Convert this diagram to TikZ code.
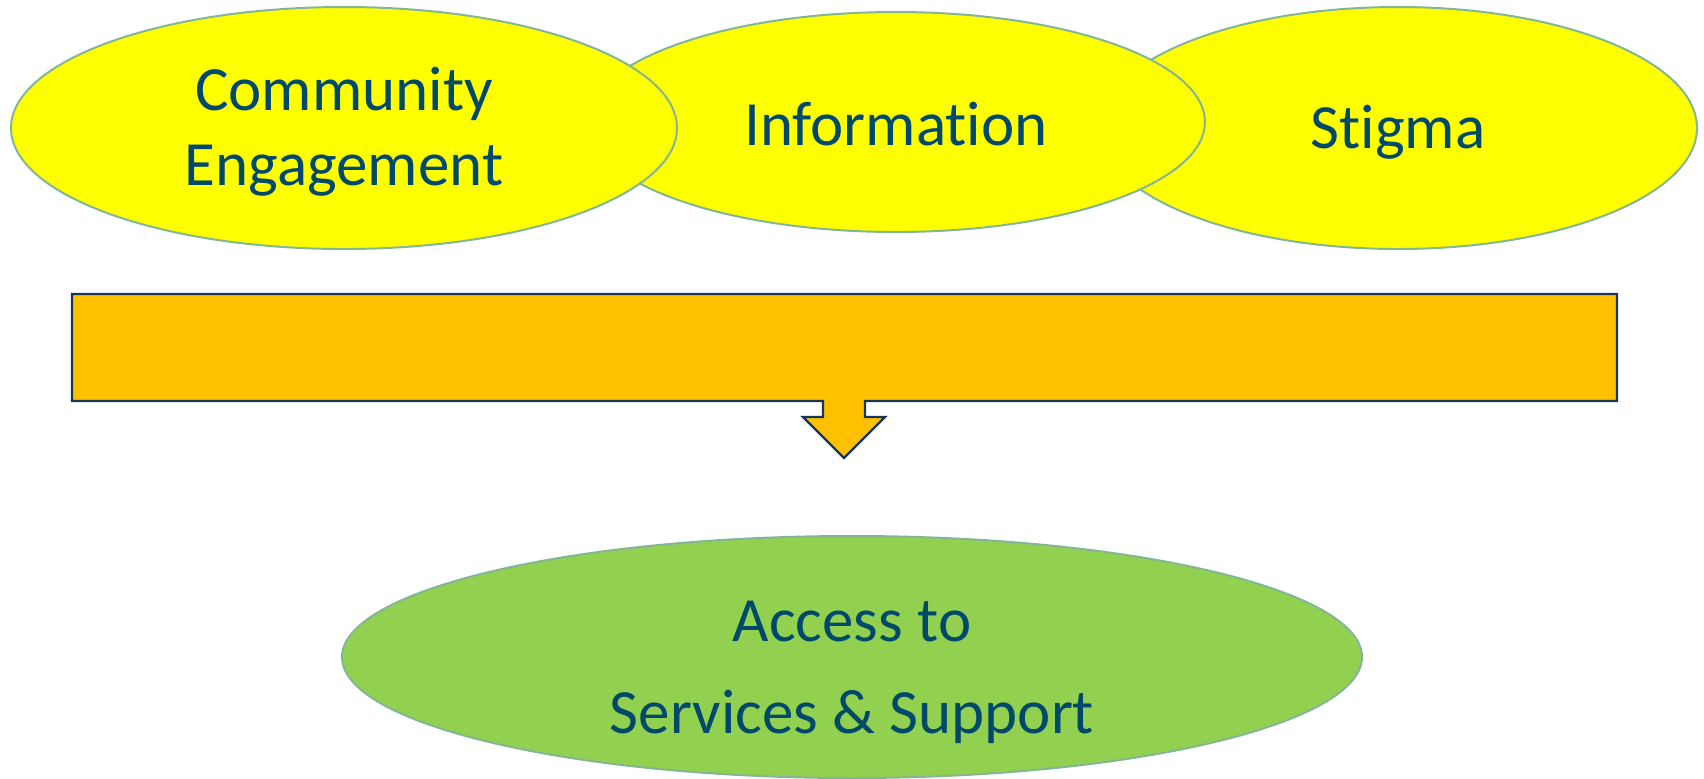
\documentclass[tikz,border=0pt]{standalone}
\usepackage{fontspec}
\setmainfont[Ligatures=NoCommon]{Carlito}
\usetikzlibrary{shapes.geometric}
\definecolor{rim}{RGB}{132,182,150}
\definecolor{ink}{RGB}{0,73,107}
\definecolor{navy}{RGB}{22,54,92}
\definecolor{amber}{RGB}{255,192,0}
\definecolor{lemon}{RGB}{255,255,0}
\definecolor{leaf}{RGB}{146,208,80}
\tikzset{
  bubble/.style={ellipse, draw=rim, line width=1pt, fill=lemon, inner sep=0pt},
  word/.style={text=ink, font=\fontsize{31.5}{37.5}\selectfont, align=center, inner sep=0pt, anchor=base}
}
\begin{document}
\begin{tikzpicture}[x=0.5pt,y=-0.5pt]
			\useasboundingbox (0,0) rectangle (1704,778);
			\node[bubble, minimum width=299pt, minimum height=121pt] (stigma) at (1398,128) {};
			\node[bubble, minimum width=309pt, minimum height=110pt] (info) at (896,122) {};
			\node[bubble, minimum width=333pt, minimum height=121pt] (comm) at (344,128) {};
			% base of a two-line label is its last line
			\node[word] (comm-text) at (344,185) {Community\\Engagement};
			\node[word] (info-text) at (896,145) {Information};
			\node[word] (stigma-text) at (1398,148) {Stigma};
			\draw[draw=navy, fill=amber, line width=1.2pt, line join=miter] (72,294) -- (1617,294) -- (1617,401) -- (865,401) -- (865,417) -- (885,417)
				-- (844,458) -- (803,417) -- (823,417) -- (823,401) -- (72,401) -- cycle;
			\node[bubble, fill=leaf, minimum width=510pt, minimum height=121pt] (access) at (852,657) {};
			\node[word, font=\fontsize{31.5}{46}\selectfont] (access-text) at (852,733) {Access to\\Services \& Support};
		\end{tikzpicture}
\end{document}
